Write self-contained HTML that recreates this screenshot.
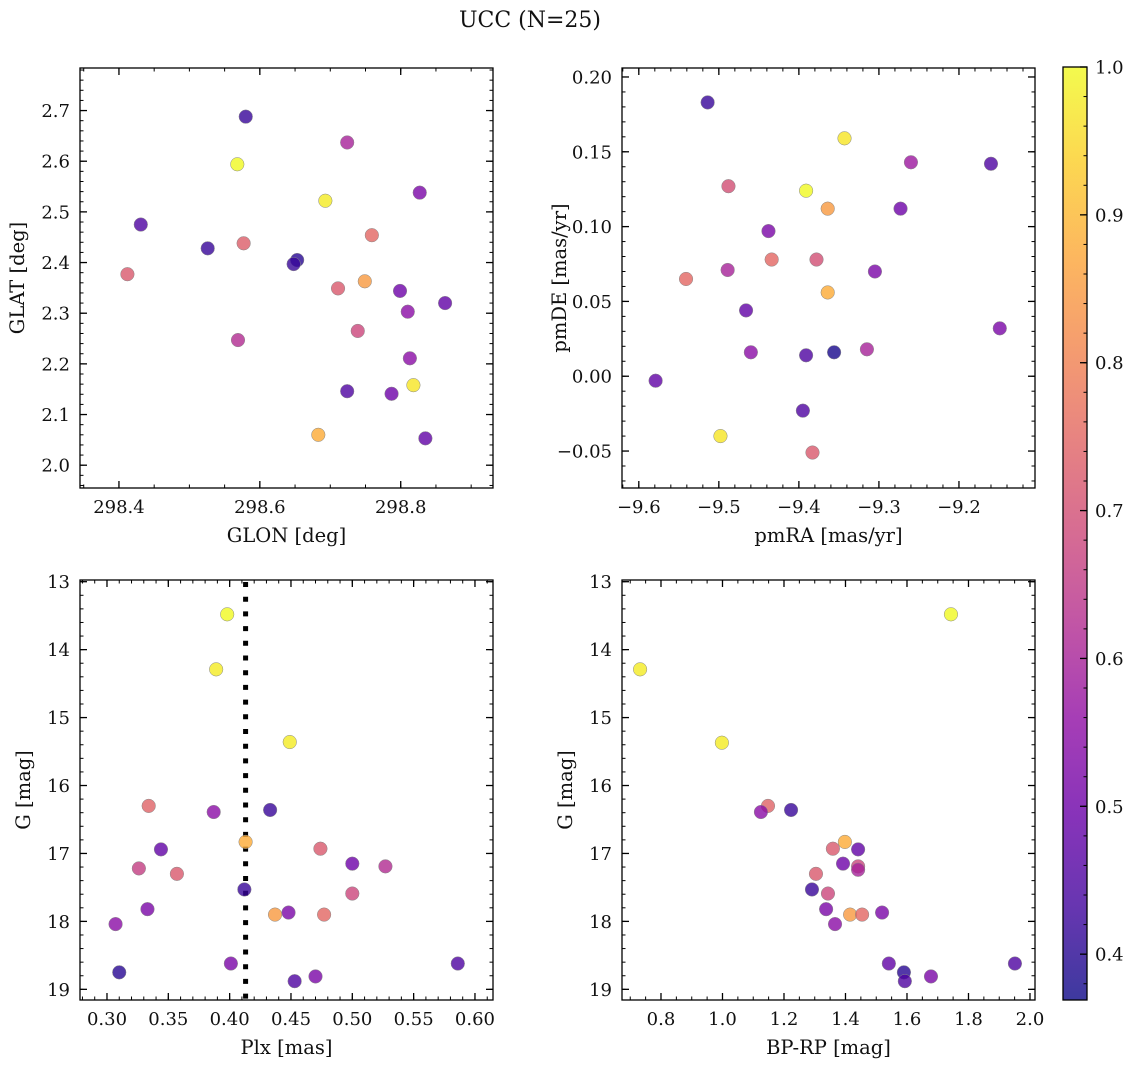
<!DOCTYPE html>
<html><head><meta charset="utf-8"><style>
body{margin:0;background:#fff}
svg text{font-family:"DejaVu Serif","Liberation Serif",serif;fill:#111}
</style></head><body>
<svg id="fig" width="1136" height="1067" xmlns="http://www.w3.org/2000/svg">
<text x="530" y="27" text-anchor="middle" font-size="22">UCC (N=25)</text>
</svg>
<script>
// ---- data ----
const tlGlon=[298.580,298.724,298.568,298.693,298.827,298.431,298.759,298.577,298.526,298.653,298.648,298.412,298.749,298.711,298.799,298.863,298.810,298.739,298.569,298.813,298.818,298.724,298.787,298.683,298.835];
const tlGlat=[2.688,2.637,2.594,2.522,2.538,2.475,2.454,2.438,2.428,2.405,2.397,2.377,2.363,2.349,2.344,2.320,2.303,2.265,2.247,2.211,2.158,2.146,2.141,2.060,2.053];
const tlProb=[0.42,0.60,1.0,0.98,0.52,0.45,0.75,0.73,0.42,0.40,0.42,0.72,0.85,0.72,0.50,0.48,0.55,0.68,0.62,0.55,0.97,0.45,0.50,0.88,0.48];
const trPmra=[-9.514,-9.343,-9.260,-9.160,-9.488,-9.391,-9.364,-9.273,-9.438,-9.434,-9.378,-9.489,-9.305,-9.541,-9.364,-9.466,-9.149,-9.460,-9.315,-9.391,-9.356,-9.579,-9.395,-9.498,-9.383];
const trPmde=[0.183,0.159,0.143,0.142,0.127,0.124,0.112,0.112,0.097,0.078,0.078,0.071,0.070,0.065,0.056,0.044,0.032,0.016,0.018,0.014,0.016,-0.003,-0.023,-0.040,-0.051];
const trProb=[0.42,0.97,0.58,0.45,0.70,1.0,0.85,0.50,0.52,0.75,0.70,0.60,0.52,0.75,0.88,0.48,0.52,0.55,0.60,0.45,0.38,0.48,0.45,0.97,0.72];
const blPlx=[0.398,0.389,0.449,0.334,0.387,0.433,0.413,0.344,0.474,0.500,0.527,0.326,0.357,0.412,0.500,0.333,0.437,0.448,0.477,0.307,0.401,0.586,0.310,0.470,0.453];
const gMag=[13.48,14.29,15.36,16.30,16.39,16.36,16.83,16.94,16.93,17.15,17.19,17.22,17.30,17.53,17.59,17.82,17.90,17.87,17.90,18.04,18.62,18.62,18.75,18.81,18.88];
const blProb=[1.0,0.98,0.98,0.74,0.55,0.42,0.88,0.48,0.72,0.50,0.62,0.66,0.72,0.42,0.68,0.52,0.85,0.52,0.75,0.55,0.52,0.45,0.40,0.52,0.45];
const brBprp=[1.743,0.732,0.998,1.148,1.125,1.223,1.398,1.441,1.359,1.392,1.441,1.441,1.304,1.291,1.343,1.337,1.415,1.454,1.519,1.366,1.541,1.951,1.590,1.678,1.593];
const brG=[13.48,14.29,15.37,16.30,16.39,16.36,16.83,16.94,16.93,17.15,17.19,17.24,17.30,17.53,17.59,17.82,17.90,17.90,17.87,18.04,18.62,18.62,18.75,18.81,18.88];
const brProb=[1.0,0.98,0.98,0.74,0.55,0.42,0.88,0.48,0.72,0.50,0.68,0.60,0.72,0.42,0.68,0.52,0.85,0.75,0.52,0.55,0.48,0.45,0.40,0.52,0.45];
const plxLine=0.413;
const cbTicks=[0.4,0.5,0.6,0.7,0.8,0.9,1.0];

const NS="http://www.w3.org/2000/svg";
const svg=document.getElementById('fig');
function mk(tag,attrs,parent){const e=document.createElementNS(NS,tag);for(const k in attrs)e.setAttribute(k,attrs[k]);(parent||svg).appendChild(e);return e;}
const stops=[[13,8,135],[65,4,157],[106,0,168],[143,13,164],[177,42,144],[204,71,120],[225,100,98],[242,132,75],[252,166,54],[252,206,37],[240,249,33]];
const vmin=0.369,vmax=1.0;
function plasma(v){let t=(v-vmin)/(vmax-vmin);t=Math.max(0,Math.min(1,t));const p=t*10,i=Math.min(9,Math.floor(p)),f=p-i;const a=stops[i],b=stops[i+1];return `rgb(${a.map((c,k)=>Math.round(c+(b[k]-c)*f)).join(',')})`;}
function fmt(v,d){return (v<-1e-9?'\u2212':'')+Math.abs(v).toFixed(d);}

function panel(o){
  const g=mk('g',{});
  
  
  const sx=v=>o.x0+(v-o.xmin)/(o.xmax-o.xmin)*(o.x1-o.x0);
  const sy=o.inv?(v=>o.y0+(v-o.ymin)/(o.ymax-o.ymin)*(o.y1-o.y0)):(v=>o.y1-(v-o.ymin)/(o.ymax-o.ymin)*(o.y1-o.y0));
  const eps=1e-9;
  for(let v=Math.ceil(o.xmin/o.xmn-eps)*o.xmn;v<=o.xmax+eps;v+=o.xmn){const X=sx(v);mk('line',{x1:X,x2:X,y1:o.y1,y2:o.y1-3.5,stroke:'#000','stroke-width':1},g);mk('line',{x1:X,x2:X,y1:o.y0,y2:o.y0+3.5,stroke:'#000','stroke-width':1},g);}
  for(let v=Math.ceil(o.ymin/o.ymn-eps)*o.ymn;v<=o.ymax+eps;v+=o.ymn){const Y=sy(v);mk('line',{y1:Y,y2:Y,x1:o.x0,x2:o.x0+3.5,stroke:'#000','stroke-width':1},g);mk('line',{y1:Y,y2:Y,x1:o.x1,x2:o.x1-3.5,stroke:'#000','stroke-width':1},g);}
  o.xt.forEach(v=>{const X=sx(v);mk('line',{x1:X,x2:X,y1:o.y1,y2:o.y1-7,stroke:'#000','stroke-width':1.3},g);mk('line',{x1:X,x2:X,y1:o.y0,y2:o.y0+7,stroke:'#000','stroke-width':1.3},g);
    const t=mk('text',{x:X,y:o.y1+25,'text-anchor':'middle','font-size':18},g);t.textContent=fmt(v,o.xd);
    
    });
  o.yt.forEach(v=>{const Y=sy(v);mk('line',{y1:Y,y2:Y,x1:o.x0,x2:o.x0+7,stroke:'#000','stroke-width':1.3},g);mk('line',{y1:Y,y2:Y,x1:o.x1,x2:o.x1-7,stroke:'#000','stroke-width':1.3},g);
    const t=mk('text',{x:o.x0-10,y:Y+6.5,'text-anchor':'end','font-size':18},g);t.textContent=fmt(v,o.yd);
    
    });
  if(o.vline!==undefined){const l=mk('line',{x1:sx(o.vline),x2:sx(o.vline),y1:o.y0+2,y2:o.y1,stroke:'#000','stroke-width':5,'stroke-dasharray':'5,9.7'},g);
    
    }
  o.xs.forEach((v,i)=>{const c=mk('circle',{cx:sx(v),cy:sy(o.ys[i]),r:6.8,fill:plasma(o.c[i]),'fill-opacity':0.8,stroke:'#888','stroke-width':0.5},g);
    
    });
  mk('rect',{x:o.x0,y:o.y0,width:o.x1-o.x0,height:o.y1-o.y0,fill:'none',stroke:'#000','stroke-width':1.3},g);
  const xl=mk('text',{x:(o.x0+o.x1)/2,y:o.y1+54,'text-anchor':'middle','font-size':19.5},g);xl.textContent=o.xl;
  
  
  const yx=o.x0-o.ylo,yy=(o.y0+o.y1)/2;
  const yl=mk('text',{x:yx,y:yy,'text-anchor':'middle','font-size':19.5,transform:`rotate(-90 ${yx} ${yy})`},g);yl.textContent=o.yl;
  
  
}
panel({name:'glon-glat-panel',x0:80,x1:493,y0:68,y1:488,xmin:298.3447,xmax:298.931,ymin:1.955,ymax:2.784,xt:[298.4,298.6,298.8],yt:[2.0,2.1,2.2,2.3,2.4,2.5,2.6,2.7],xmn:0.05,ymn:0.02,xd:1,yd:1,xs:tlGlon,ys:tlGlat,c:tlProb,xl:'GLON [deg]',yl:'GLAT [deg]',ylo:56});
panel({name:'proper-motion-panel',x0:622,x1:1035,y0:68,y1:488,xmin:-9.621,xmax:-9.105,ymin:-0.0747,ymax:0.2060,xt:[-9.6,-9.5,-9.4,-9.3,-9.2],yt:[-0.05,0,0.05,0.1,0.15,0.2],xmn:0.02,ymn:0.01,xd:1,yd:2,xs:trPmra,ys:trPmde,c:trProb,xl:'pmRA [mas/yr]',yl:'pmDE [mas/yr]',ylo:56});
panel({name:'plx-g-panel',x0:80,x1:493,y0:580,y1:1000,xmin:0.278,xmax:0.6147,ymin:12.975,ymax:19.157,inv:true,xt:[0.3,0.35,0.4,0.45,0.5,0.55,0.6],yt:[13,14,15,16,17,18,19],xmn:0.01,ymn:0.2,xd:2,yd:0,xs:blPlx,ys:gMag,c:blProb,xl:'Plx [mas]',yl:'G [mag]',ylo:50,vline:plxLine});
panel({name:'cmd-panel',x0:622,x1:1035,y0:580,y1:1000,xmin:0.6732,xmax:2.0163,ymin:12.975,ymax:19.157,inv:true,xt:[0.8,1.0,1.2,1.4,1.6,1.8,2.0],yt:[13,14,15,16,17,18,19],xmn:0.05,ymn:0.2,xd:1,yd:0,xs:brBprp,ys:brG,c:brProb,xl:'BP-RP [mag]',yl:'G [mag]',ylo:50});
// colorbar
const cb=mk('g',{});


const defs=mk('defs',{},cb);const lg=mk('linearGradient',{id:'pg',x1:0,y1:1,x2:0,y2:0},defs);
for(let i=0;i<=20;i++){const v=vmin+(vmax-vmin)*i/20;mk('stop',{offset:(i*5)+'%','stop-color':plasma(v),'stop-opacity':0.8},lg);}
const cy0=67,cy1=1000,cx0=1063,cx1=1087;const cs=v=>cy1-(v-vmin)/(vmax-vmin)*(cy1-cy0);
mk('rect',{x:cx0,y:cy0,width:cx1-cx0,height:cy1-cy0,fill:'url(#pg)',stroke:'#000','stroke-width':1.3},cb);
for(let v=0.38;v<=1.0001;v+=0.02){mk('line',{x1:cx1,x2:cx1-3.5,y1:cs(v),y2:cs(v),stroke:'#000'},cb);}
cbTicks.forEach(v=>{mk('line',{x1:cx1,x2:cx1-7,y1:cs(v),y2:cs(v),stroke:'#000','stroke-width':1.3},cb);const t=mk('text',{x:cx1+8,y:cs(v)+6.5,'font-size':18},cb);t.textContent=v.toFixed(1);
  
  });
</script>
</body></html>
